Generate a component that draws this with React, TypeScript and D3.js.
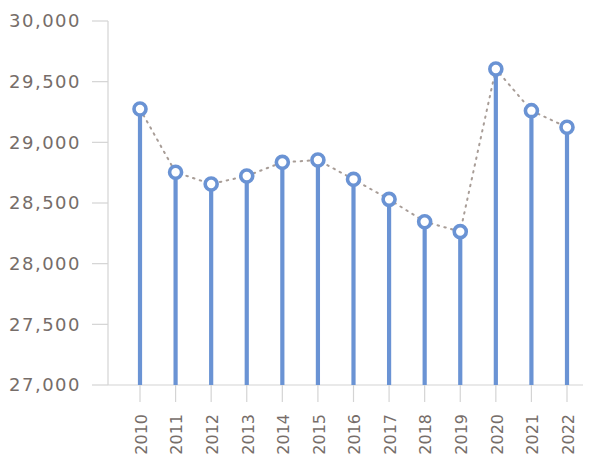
import React from "react";
import * as d3 from "d3";

const years = ["2010","2011","2012","2013","2014","2015","2016","2017","2018","2019","2020","2021","2022"];
const values = [29275, 28753, 28657, 28723, 28835, 28854, 28695, 28530, 28346, 28264, 29604, 29261, 29124];
const yTicks = [27000, 27500, 28000, 28500, 29000, 29500, 30000];

const W = 589;
const H = 464;
const axisX = 108;
const yTop = 21;
const yBottom = 385;
const xEnd = 583;

const stemColor = "#6a93d4";
const textColor = "#766d69";
const axisColor = "#d4d4d4";

export default function App() {
  const x = d3.scalePoint<string>().domain(years).range([140, 567]);
  const y = d3.scaleLinear().domain([27000, 30000]).range([yBottom, yTop]);
  const fmt = d3.format(",");
  const pts: [number, number][] = values.map((v, i) => [x(years[i])!, y(v)]);
  const line = d3.line()(pts) || "";

  return (
    <svg width={W} height={H} style={{ position: "absolute", left: 0, top: 0, background: "#fff" }}
      fontFamily="'DejaVu Sans', sans-serif">
      {/* y axis */}
      <line x1={axisX} x2={axisX} y1={yTop} y2={yBottom} stroke={axisColor} strokeWidth={1.2} />
      {yTicks.map((t) => (
        <g key={t}>
          <line x1={axisX - 16} x2={axisX} y1={y(t)} y2={y(t)} stroke={axisColor} strokeWidth={1.2} />
          <text x={81} y={y(t)} dy="0.36em" textAnchor="end" fontSize={18} letterSpacing={1.5} fill={textColor}>{fmt(t)}</text>
        </g>
      ))}
      {/* x axis */}
      <line x1={axisX} x2={xEnd} y1={yBottom} y2={yBottom} stroke={axisColor} strokeWidth={1.2} />
      {years.map((yr) => (
        <g key={yr}>
          <line x1={x(yr)} x2={x(yr)} y1={yBottom} y2={yBottom + 17} stroke={axisColor} strokeWidth={1.2} />
          <text transform={`translate(${x(yr)! + 1},${yBottom + 29}) rotate(-90)`} textAnchor="end" dy="0.36em"
            fontSize={16} fill={textColor}>{yr}</text>
        </g>
      ))}
      {/* connecting dotted line */}
      <path d={line} fill="none" stroke="#a89d97" strokeWidth={2} strokeDasharray="1.5,5.5" strokeLinecap="round" />
      {/* stems */}
      {values.map((v, i) => (
        <line key={`s${i}`} x1={x(years[i])} x2={x(years[i])} y1={yBottom} y2={y(v)} stroke={stemColor} strokeWidth={4.2} />
      ))}
      {/* markers */}
      {values.map((v, i) => (
        <circle key={`c${i}`} cx={x(years[i])} cy={y(v)} r={6} fill="#fff" stroke={stemColor} strokeWidth={3.6} />
      ))}
    </svg>
  );
}
